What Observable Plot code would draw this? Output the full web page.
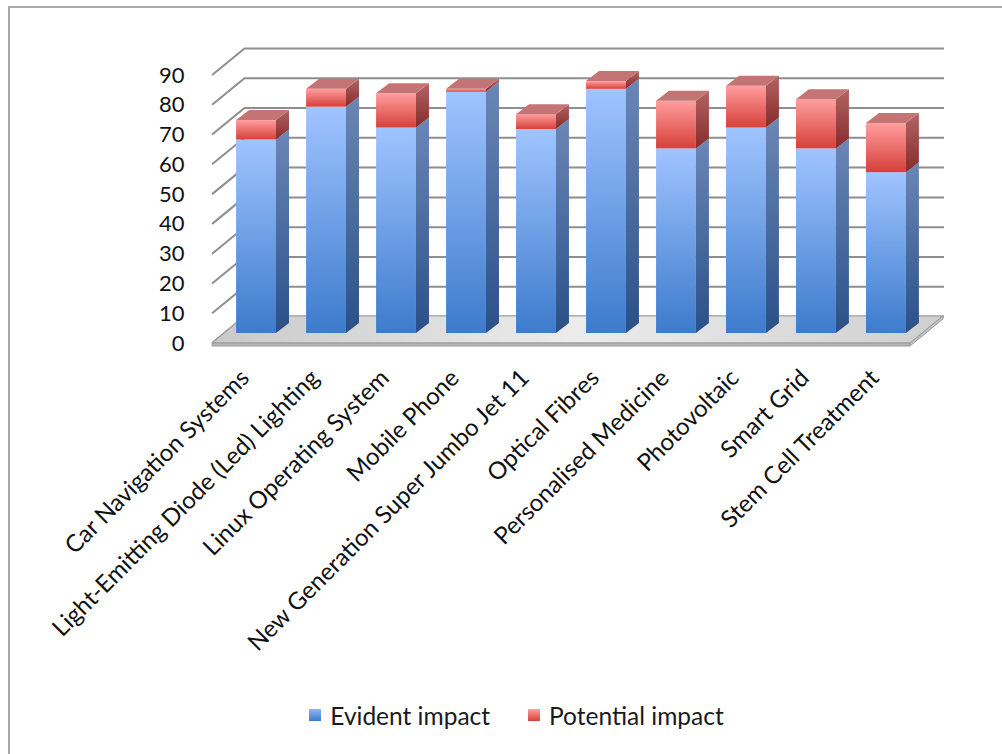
<!DOCTYPE html>
<html>
<head>
<meta charset="utf-8">
<script src="https://cdn.jsdelivr.net/npm/d3@7"></script>
<script src="https://cdn.jsdelivr.net/npm/@observablehq/plot@0.6"></script>
<style>
  body { margin: 0; background: #fff; font-family: Lato, "Open Sans", sans-serif; }
  #wrap { position: relative; width: 1002px; height: 754px; overflow: hidden; background: #fff; }
  #chart { position: absolute; left: 0; top: 0; }
  #frame { position: absolute; left: 8px; top: 6px; width: 1100px; height: 900px;
           border-left: 2px solid #a9a9a9; border-top: 2px solid #a9a9a9; pointer-events: none; }
  #legend { position: absolute; left: 0; top: 690px; width: 1002px; height: 50px;
            display: flex; justify-content: center; align-items: center; padding-left: 31px; box-sizing: border-box;
            font-size: 24.5px; color: #1a1a1a; }
  .item { display: flex; align-items: center; }
  .item + .item { margin-left: 38px; }
  .sw { width: 12px; height: 12px; margin-right: 9px; }
</style>
</head>
<body>
<div id="wrap">
  <div id="chart"></div>
  <div id="frame"></div>
  <div id="legend"></div>
</div>
<script>
// ---- data ----
const categories = [
  "Car Navigation Systems",
  "Light-Emitting Diode (Led) Lighting",
  "Linux Operating System",
  "Mobile Phone",
  "New Generation Super Jumbo Jet 11",
  "Optical Fibres",
  "Personalised Medicine",
  "Photovoltaic",
  "Smart Grid",
  "Stem Cell Treatment"
];
const seriesNames = ["Evident impact", "Potential impact"];
const evident   = [65, 76, 69, 81, 68.5, 82, 62, 69, 62, 54];
const potential = [6.5, 6, 11.5, 1, 5, 2.6, 16, 14, 16.5, 16.5];
const yTicks = [0, 10, 20, 30, 40, 50, 60, 70, 80, 90];

// table for Plot
const table = categories.flatMap((c, i) => [
  {category: c, series: seriesNames[0], value: evident[i]},
  {category: c, series: seriesNames[1], value: potential[i]}
]);

// depth offsets of the pseudo-3D look (px)
const BACK = {dx: 21, dy: -17};   // back wall relative to bar front plane
const FRONT = {dx: -12, dy: 10};  // floor front edge relative to bar front plane
const DEPTH = {dx: 13, dy: -10};  // bar depth

const W = 1002, H = 690;
const plot = Plot.plot({
  width: W, height: H,
  marginLeft: 206, marginRight: 66, marginTop: 65, marginBottom: 357,
  style: {background: "transparent", color: "#111", fontFamily: "Lato, 'Open Sans', sans-serif"},
  x: {domain: categories, padding: 0.43, round: false, axis: null},
  y: {domain: [0, 90], axis: null},
  color: {domain: seriesNames, range: ["url(#gEvident)", "url(#gPotential)"]},
  marks: [
    Plot.ruleY(yTicks, {stroke: "#8e8e8e", strokeWidth: 2, dx: BACK.dx, dy: BACK.dy, insetLeft: 18, insetRight: 13}),
    Plot.barY(table, {x: "category", y: "value", fill: "series"}),
    Plot.axisY(yTicks, {tickSize: 0, tickPadding: 22, dy: 10, fontSize: 22, fill: "#111", label: null}),
    Plot.text(categories, {x: d => d, text: d => d, frameAnchor: "bottom", rotate: -45,
      textAnchor: "end", dx: -6, dy: 46, fontSize: 24, fill: "#111"})
  ]
});
document.getElementById("chart").appendChild(plot);

// ---- gradients ----
const svg = d3.select(plot);
const defs = svg.insert("defs", ":first-child");
function grad(id, stops, horizontal) {
  const g = defs.append("linearGradient").attr("id", id)
    .attr("x1", 0).attr("y1", 0).attr("x2", horizontal ? 1 : 0).attr("y2", horizontal ? 0 : 1);
  stops.forEach(([o, c]) => g.append("stop").attr("offset", o).attr("stop-color", c));
}
grad("gEvident", [[0, "#a0c4ff"], [1, "#3d7bcc"]]);
grad("gPotential", [[0, "#ff9e9e"], [1, "#d6403a"]]);
grad("gEvidentSide", [[0, "#6a87b6"], [1, "#2a5088"]]);
grad("gPotentialSide", [[0, "#b26464"], [1, "#872a2a"]]);
grad("gFloor", [[0, "#c9c9c9"], [0.5, "#ececec"], [1, "#cfcfcf"]], true);

// ---- 3D chrome derived from the plot's own scales ----
const sy = plot.scale("y");
const yScale = sy.apply ? (v => sy.apply(v)) : d3.scaleLinear(sy.domain, sy.range);
const barGroup = plot.querySelector('g[aria-label="bar"]');
const rects = Array.from(barGroup.querySelectorAll("rect")).map(r => ({
  x: +r.getAttribute("x"), y: +r.getAttribute("y"),
  w: +r.getAttribute("width"), h: +r.getAttribute("height"),
  fill: r.getAttribute("fill")
}));
const L = d3.min(rects, r => r.x) - 12;
const R = d3.max(rects, r => r.x + r.w) + 16;
const y0 = yScale(0);

const ns = "http://www.w3.org/2000/svg";
const floorG = document.createElementNS(ns, "g");
barGroup.parentNode.insertBefore(floorG, barGroup);
const fg = d3.select(floorG);
// side-wall diagonal gridlines
yTicks.forEach(t => {
  const y = yScale(t);
  fg.append("line")
    .attr("x1", L + FRONT.dx).attr("y1", y + FRONT.dy)
    .attr("x2", L + BACK.dx).attr("y2", y + BACK.dy)
    .attr("stroke", "#8e8e8e").attr("stroke-width", 2);
});
// floor
const pts = (a) => a.map(p => p.join(",")).join(" ");
fg.append("polygon")
  .attr("points", pts([[L + FRONT.dx, y0 + FRONT.dy], [R + FRONT.dx, y0 + FRONT.dy],
                       [R + BACK.dx, y0 + BACK.dy], [L + BACK.dx, y0 + BACK.dy]]))
  .attr("fill", "url(#gFloor)").attr("stroke", "#a0a0a0").attr("stroke-width", 1);
fg.append("polygon")
  .attr("points", pts([[L + FRONT.dx, y0 + FRONT.dy], [R + FRONT.dx, y0 + FRONT.dy],
                       [R + FRONT.dx, y0 + FRONT.dy + 3], [L + FRONT.dx, y0 + FRONT.dy + 3]]))
  .attr("fill", "#b5b5b5").attr("stroke", "#9a9a9a").attr("stroke-width", 1);
fg.append("polygon")
  .attr("points", pts([[R + FRONT.dx, y0 + FRONT.dy], [R + BACK.dx, y0 + BACK.dy],
                       [R + BACK.dx, y0 + BACK.dy + 3], [R + FRONT.dx, y0 + FRONT.dy + 3]]))
  .attr("fill", "#c4c4c4").attr("stroke", "#9a9a9a").attr("stroke-width", 1);

// bar sides and tops
const sideG = d3.select(barGroup.parentNode).insert("g", function() { return barGroup.nextSibling; });
const topY = d3.rollup(rects, v => d3.min(v, r => r.y), r => r.x);
rects.forEach(r => {
  const isE = r.fill.includes("Evident");
  sideG.append("polygon")
    .attr("points", pts([[r.x + r.w, r.y], [r.x + r.w + DEPTH.dx, r.y + DEPTH.dy],
                         [r.x + r.w + DEPTH.dx, r.y + r.h + DEPTH.dy], [r.x + r.w, r.y + r.h]]))
    .attr("fill", isE ? "url(#gEvidentSide)" : "url(#gPotentialSide)");
  if (r.y === topY.get(r.x)) {
    sideG.append("polygon")
      .attr("points", pts([[r.x, r.y], [r.x + DEPTH.dx, r.y + DEPTH.dy],
                           [r.x + r.w + DEPTH.dx, r.y + DEPTH.dy], [r.x + r.w, r.y]]))
      .attr("fill", isE ? "#8fb0e2" : "#c47474");
  }
});

// ---- legend ----
const legend = d3.select("#legend");
[["Evident impact", "linear-gradient(#8fb6f5, #3d7bcc)"], ["Potential impact", "linear-gradient(#ff9e9e, #d6403a)"]]
  .forEach(([name, bg]) => {
    const it = legend.append("div").attr("class", "item");
    it.append("div").attr("class", "sw").style("background", bg);
    it.append("span").text(name);
  });
</script>
</body>
</html>
